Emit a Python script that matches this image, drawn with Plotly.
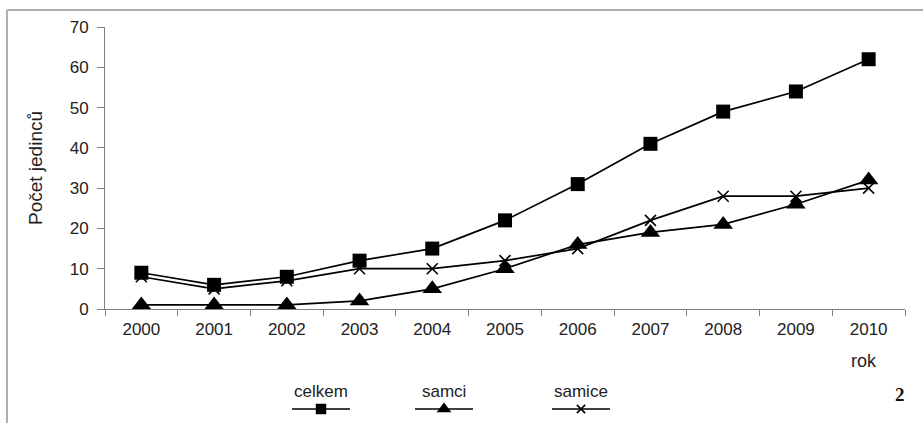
import plotly.graph_objects as go

years = ["2000", "2001", "2002", "2003", "2004", "2005", "2006", "2007", "2008", "2009", "2010"]
celkem = [9, 6, 8, 12, 15, 22, 31, 41, 49, 54, 62]
samci = [1, 1, 1, 2, 5, 10, 16, 19, 21, 26, 32]
samice = [8, 5, 7, 10, 10, 12, 15, 22, 28, 28, 30]
series_names = ["celkem", "samci", "samice"]
y_ticks = [0, 10, 20, 30, 40, 50, 60, 70]

W, H = 923, 423
L, R, T, B = 105, 905, 27, 309  # plot area in pixels

FONT = "Liberation Sans, Arial, sans-serif"
TXT = "#222"
styles = {
    "celkem": dict(symbol="square", size=14, color="black", line=dict(width=0)),
    "samci": dict(symbol="triangle-up", size=17, color="black", line=dict(width=0)),
    "samice": dict(symbol="x-thin-open", size=11, color="black", line=dict(width=1.6, color="black")),
}

fig = go.Figure()
for name, vals in zip(series_names, [celkem, samci, samice]):
    fig.add_trace(go.Scatter(
        x=years, y=vals, mode="lines+markers", name=name,
        line=dict(color="black", width=1.7),
        marker=styles[name], showlegend=False,
        xaxis="x", yaxis="y",
    ))

# custom legend (text above a line sample), drawn on an auxiliary pixel axis
leg_centers = [321, 444, 581]
for name, cx in zip(series_names, leg_centers):
    fig.add_trace(go.Scatter(
        x=[cx - 29, cx, cx + 29], y=[409, 409, 409], mode="lines",
        line=dict(color="black", width=1.5), showlegend=False,
        xaxis="x2", yaxis="y2", hoverinfo="skip",
    ))
    fig.add_trace(go.Scatter(
        x=[cx], y=[409], mode="markers",
        marker=dict(styles[name], size=styles[name]["size"] * 0.75),
        showlegend=False, xaxis="x2", yaxis="y2", hoverinfo="skip",
    ))
    fig.add_annotation(x=cx, y=391, xref="x2", yref="y2", text=name, showarrow=False,
                       font=dict(family=FONT, size=17, color=TXT))

fig.add_annotation(x=864, y=361, xref="x2", yref="y2", text="rok", showarrow=False,
                   font=dict(family=FONT, size=18, color=TXT))
fig.add_annotation(x=900, y=394, xref="x2", yref="y2", text="<b>2</b>", showarrow=False,
                   font=dict(family="Liberation Serif, DejaVu Serif, serif", size=19, color="#111"))

fig.update_layout(
    width=W, height=H,
    margin=dict(l=0, r=0, t=0, b=0, autoexpand=False),
    paper_bgcolor="white", plot_bgcolor="rgba(0,0,0,0)",
    xaxis=dict(
        type="category", domain=[L / W, R / W], range=[-0.5, 10.5],
        showgrid=False, showline=True, linecolor="#808080", linewidth=1,
        ticks="outside", tickson="boundaries", ticklen=6, tickcolor="#808080",
        ticklabelstandoff=5, automargin=False,
        tickfont=dict(family=FONT, size=17, color=TXT),
        anchor="y", zeroline=False,
    ),
    yaxis=dict(
        domain=[(H - B) / H, (H - T) / H], range=[0, 70],
        tickvals=y_ticks, showgrid=False, showline=True, linecolor="#808080", linewidth=1,
        ticks="outside", ticklen=7, tickcolor="#808080",
        ticklabelstandoff=5, automargin=False,
        tickfont=dict(family=FONT, size=17, color=TXT),
        title=dict(text="Počet jedinců", font=dict(family=FONT, size=19, color=TXT), standoff=22),
        anchor="x", zeroline=False,
    ),
    xaxis2=dict(domain=[0, 1], range=[0, W], visible=False, showticklabels=False,
                automargin=False, anchor="y2", fixedrange=True),
    yaxis2=dict(domain=[0, 1], range=[H, 0], visible=False, showticklabels=False,
                automargin=False, anchor="x2", fixedrange=True),
    shapes=[
        dict(type="line", xref="paper", yref="paper", x0=7 / W, x1=1, y0=(H - 10) / H, y1=(H - 10) / H,
             line=dict(color="#b0b0b0", width=2)),
        dict(type="line", xref="paper", yref="paper", x0=7 / W, x1=7 / W, y0=0, y1=(H - 10) / H,
             line=dict(color="#b0b0b0", width=2)),
    ],
)

post = (
    "document.body.style.margin='0';"
    "document.documentElement.style.overflow='hidden';"
    "document.body.style.overflow='hidden';"
    "var d=document.getElementById('{plot_id}');"
    "d.style.position='fixed';d.style.top='0';d.style.left='0';"
)
fig.write_html("out.html", post_script=post, config={"displayModeBar": False})
